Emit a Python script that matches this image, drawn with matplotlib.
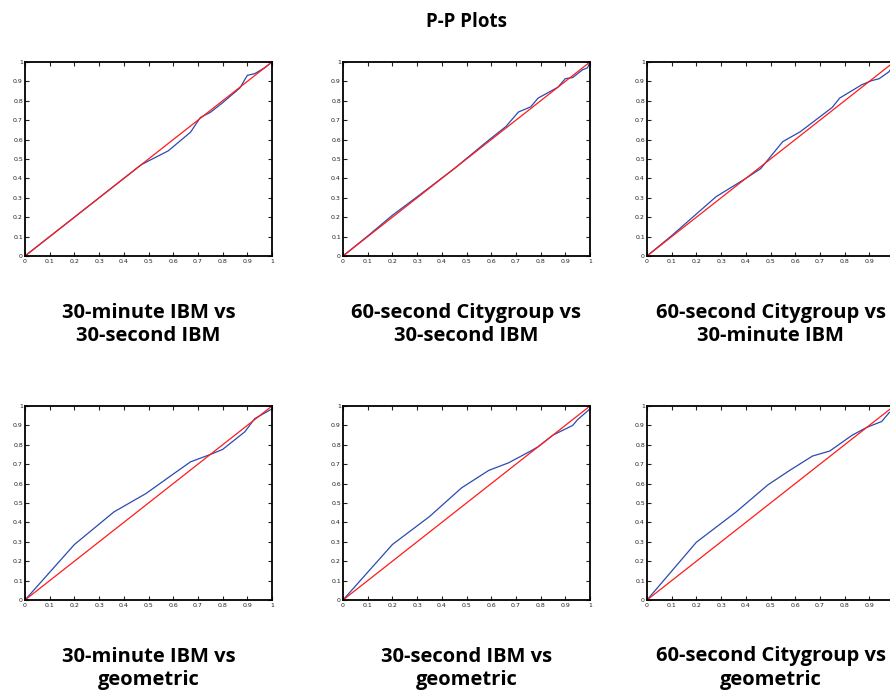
import matplotlib
matplotlib.use("Agg")
import matplotlib.pyplot as plt
import numpy as np

titles = [
    "30-minute IBM vs\n30-second IBM",
    "60-second Citygroup vs\n30-second IBM",
    "60-second Citygroup vs\n30-minute IBM",
    "30-minute IBM vs\ngeometric",
    "30-second IBM vs\ngeometric",
    "60-second Citygroup vs\ngeometric",
]

x1 = [0, 0.1, 0.2, 0.3, 0.4, 0.47, 0.5, 0.58, 0.67, 0.71, 0.75, 0.8, 0.87, 0.9, 0.93, 0.97, 1.0]
y1 = [0, 0.1, 0.2, 0.3, 0.4, 0.47, 0.49, 0.542, 0.638, 0.714, 0.74, 0.79, 0.866, 0.931, 0.94, 0.97, 1.0]

x2 = [0, 0.1, 0.2, 0.3, 0.45, 0.58, 0.66, 0.71, 0.76, 0.79, 0.87, 0.9, 0.93, 0.97, 0.99, 1.0]
y2 = [0, 0.103, 0.21, 0.305, 0.45, 0.587, 0.668, 0.742, 0.769, 0.814, 0.87, 0.914, 0.92, 0.96, 0.97, 1.0]

x3 = [0, 0.1, 0.28, 0.4, 0.46, 0.55, 0.62, 0.75, 0.78, 0.87, 0.91, 0.94, 0.98, 1.0]
y3 = [0, 0.105, 0.306, 0.4, 0.45, 0.59, 0.64, 0.766, 0.814, 0.883, 0.904, 0.914, 0.95, 0.99]

x4 = [0, 0.2, 0.36, 0.49, 0.59, 0.67, 0.75, 0.8, 0.89, 0.93, 1.0]
y4 = [0, 0.286, 0.454, 0.549, 0.64, 0.712, 0.75, 0.776, 0.867, 0.935, 0.985]

x5 = [0, 0.2, 0.35, 0.48, 0.59, 0.67, 0.76, 0.79, 0.85, 0.93, 0.95, 1.0]
y5 = [0, 0.286, 0.43, 0.578, 0.668, 0.707, 0.768, 0.79, 0.85, 0.90, 0.93, 0.985]

x6 = [0, 0.2, 0.36, 0.49, 0.58, 0.67, 0.74, 0.83, 0.89, 0.95, 0.98, 1.0]
y6 = [0, 0.298, 0.453, 0.594, 0.67, 0.742, 0.768, 0.849, 0.89, 0.92, 0.965, 0.98]

xs = [x1, x2, x3, x4, x5, x6]
ys = [y1, y2, y3, y4, y5, y6]
ref = [0, 1]
ticks = [0, 0.1, 0.2, 0.3, 0.4, 0.5, 0.6, 0.7, 0.8, 0.9, 1]
tick_labels = ["0", "0.1", "0.2", "0.3", "0.4", "0.5", "0.6", "0.7", "0.8", "0.9", "1"]

W, H = 890, 695
fig = plt.figure(figsize=(W / 100, H / 100), dpi=100)

lefts = [25, 343, 647]
tops = [62, 406]
aw, ah = 247, 194

for i in range(6):
    r, c = divmod(i, 3)
    L = lefts[c]
    T = tops[r]
    ax = fig.add_axes([L / W, 1 - (T + ah) / H, aw / W, ah / H])
    ax.plot(xs[i], ys[i], color="#2a4bb0", lw=0.9)
    ax.plot(ref, ref, color="#ff1a1a", lw=0.9)
    ax.set_xlim(0, 1)
    ax.set_ylim(0, 1)
    ax.set_xticks(ticks)
    ax.set_yticks(ticks)
    xl = list(tick_labels)
    if c == 2:
        xl[-1] = ""  # falls outside the figure in the reference
    ax.set_xticklabels(xl)
    ax.set_yticklabels(tick_labels)
    ax.tick_params(direction="in", length=3, width=0.8, labelsize=4.5,
                   top=True, right=True, pad=1.5, colors="#222222")
    ax.tick_params(axis="x", pad=2)
    for s in ax.spines.values():
        s.set_linewidth(1.3)
    cx = (L + aw / 2) / W
    ty = 1 - (T + ah + 68) / H
    fig.text(cx, ty, titles[i], ha="center", va="center", fontsize=14.5,
             fontweight="bold", family="Open Sans", linespacing=1.2)

fig.text(466 / W, 1 - 22 / H, "P-P Plots", ha="center", va="center",
         fontsize=13.5, fontweight="bold", family="Open Sans")

fig.savefig("out.png", dpi=100)
